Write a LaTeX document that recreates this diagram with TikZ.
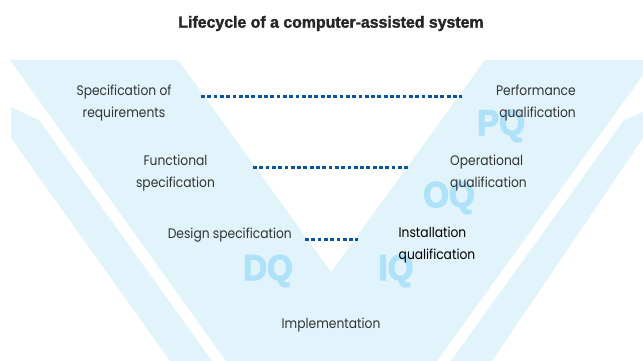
\documentclass[tikz,border=0pt]{standalone}
\usepackage{fontspec}
\setmainfont[FakeStretch=0.89]{Poppins}
\newfontfamily\titlefont[FakeBold=1.8,FakeStretch=0.98]{Liberation Sans}
\newfontfamily\qfont[FakeBold=3,FakeStretch=0.92]{Liberation Sans}
\definecolor{band}{HTML}{E1F3FB}
\definecolor{qcol}{HTML}{AEE1FA}
\definecolor{dashcol}{HTML}{0A55A3}
\definecolor{txt}{HTML}{333333}
\tikzset{
  lbl/.style={text=txt,font=\fontsize{13.8}{22}\selectfont,inner sep=0pt},
  qlbl/.style={text=qcol,font=\qfont\bfseries\fontsize{36}{36}\selectfont,inner sep=0pt,draw=none},
  link/.style={draw=dashcol,line width=2.2pt,dash pattern=on 3.8pt off 2.5pt},
}
\begin{document}
\begin{tikzpicture}[x=1pt,y=-1pt]
\useasboundingbox (0,0) rectangle (643,361);
\fill[band] (10,60) -- (178,60) -- (331,272) -- (485,60) -- (643,60) -- (643,75) -- (437,361) -- (226,361) -- cycle;
\fill[band] (11,107) -- (39,120) -- (212,361) -- (170,361) -- (11,138) -- cycle;
\fill[band] (643,112) -- (624,120) -- (451,361) -- (492,361) -- (643,138) -- cycle;
\node[qlbl] (dq) at (268,271) {DQ};
\node[qlbl] (iq) at (396,271) {IQ};
\node[qlbl] (oq) at (449,198) {OQ};
\node[qlbl] (pq) at (501,126) {PQ};
\node[font=\titlefont\bfseries\fontsize{16.2}{18}\selectfont,text=black!85,inner sep=0pt] (title) at (331,23.5) {Lifecycle of a computer-assisted system};
\node[lbl,align=center] (req) at (124,103.5) {Specification of\\requirements};
\node[lbl,align=center] (func) at (175.5,173.5) {Functional\\specification};
\node[lbl,anchor=east] (design) at (292,235.5) {Design specification};
\node[lbl,align=right,anchor=east] (perf) at (576,103.5) {Performance\\qualification};
\node[lbl,align=left,anchor=west] (oper) at (450,173.5) {Operational\\qualification};
\node[lbl,align=left,anchor=west,text=black] (inst) at (398.5,245.5) {Installation\\qualification};
\node[lbl] (impl) at (331,325) {Implementation};
\coordinate (a1) at (201,96.5); \coordinate (a2) at (462,96.5);
\coordinate (b1) at (253,167.5); \coordinate (b2) at (410,167.5);
\coordinate (c1) at (305,239.5); \coordinate (c2) at (358,239.5);
\draw[link] (a1) -- (a2);
\draw[link] (b1) -- (b2);
\draw[link] (c1) -- (c2);
\end{tikzpicture}
\end{document}
